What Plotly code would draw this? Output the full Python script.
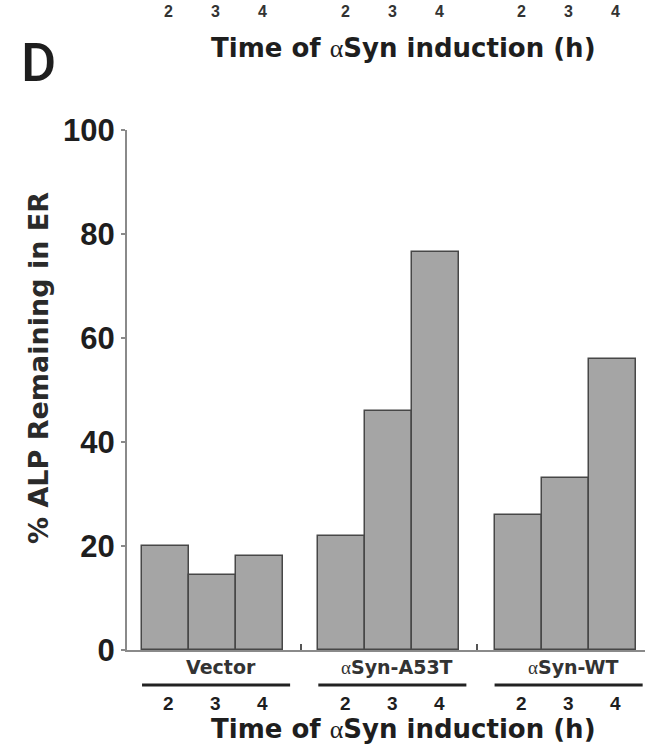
import plotly.graph_objects as go

groups = ["Vector", "αSyn-A53T", "αSyn-WT"]
times = ["2", "3", "4"]
values = [
    [20.0, 14.5, 18.0],
    [22.0, 46.0, 76.5],
    [26.0, 33.0, 56.0],
]
yticks = [0, 20, 40, 60, 80, 100]
x_title = "Time of αSyn induction (h)"
y_title = "% ALP Remaining in ER"
panel = "D"

GROUP_STEP = 3.75
PLOT_L, PLOT_R, PLOT_T, PLOT_B = 127, 645, 130, 650
W, H = 650, 750
plot_h = PLOT_B - PLOT_T

FONT = "Liberation Sans, Arial, Helvetica, sans-serif"
WIDE = "DejaVu Sans, Verdana, sans-serif"
TXT = "#1e1e1e"


def fmt(s):
    return s.replace("α", "<span style='font-family:Liberation Serif, serif;font-weight:normal'>α</span>")


xs, ys = [], []
for g, row in enumerate(values):
    for i, v in enumerate(row):
        xs.append(g * GROUP_STEP + i)
        ys.append(v)

fig = go.Figure()
fig.add_trace(go.Bar(
    x=xs, y=ys, width=1.0,
    marker=dict(color="#a5a5a5", line=dict(color="#474747", width=1.5)),
    showlegend=False,
))

gap_ticks = [g * GROUP_STEP + 2.5 + (GROUP_STEP - 3) / 2 for g in range(len(groups) - 1)]

annotations = []
shapes = []
for g, name in enumerate(groups):
    x0 = g * GROUP_STEP
    center = x0 + 1
    annotations.append(dict(x=center + 0.17, y=0, xref="x", yref="paper", yanchor="middle",
                            yshift=-17, text=fmt(name), showarrow=False,
                            font=dict(family=WIDE, size=19, color="#333", weight="bold")))
    shapes.append(dict(type="line", xref="x", yref="paper",
                       x0=x0 - 0.5, x1=x0 + 2.65, y0=-35 / plot_h, y1=-35 / plot_h,
                       line=dict(color="#222", width=3)))
    for i, t in enumerate(times):
        annotations.append(dict(x=x0 + i + 0.07, y=0, xref="x", yref="paper", yanchor="middle",
                                yshift=-53, text=t, showarrow=False,
                                font=dict(family=FONT, size=19, color=TXT, weight="bold")))
        # tick labels of the panel above (partly shown in the reference)
        annotations.append(dict(x=x0 + i + 0.07, y=1, xref="x", yref="paper",
                                yanchor="bottom", yshift=PLOT_T - 22, text=t, showarrow=False,
                                font=dict(family=FONT, size=16, color="#333", weight="bold")))

annotations.append(dict(x=0.533, y=0, xref="paper", yref="paper", yanchor="middle",
                        yshift=-79, text=fmt(x_title), showarrow=False,
                        font=dict(family=WIDE, size=26, color=TXT, weight="bold")))
annotations.append(dict(x=0.533, y=1, xref="paper", yref="paper", yanchor="middle",
                        yshift=PLOT_T - 48, text=fmt(x_title), showarrow=False,
                        font=dict(family=WIDE, size=26, color=TXT, weight="bold")))
annotations.append(dict(x=0, y=1, xref="paper", yref="paper", xanchor="center", yanchor="middle",
                        xshift=38 - PLOT_L, yshift=PLOT_T - 62, text=panel, showarrow=False,
                        font=dict(family="Roboto, Liberation Sans, sans-serif", size=54,
                                  color=TXT, weight=500)))
annotations.append(dict(x=0, y=(PLOT_B - 368) / plot_h, xref="paper", yref="paper",
                        xanchor="center", yanchor="middle", xshift=38 - PLOT_L,
                        text=y_title, textangle=-90, showarrow=False,
                        font=dict(family=WIDE, size=27, color="#2a2a2a", weight="bold")))

fig.update_layout(
    width=W, height=H,
    margin=dict(l=PLOT_L, r=W - PLOT_R, t=PLOT_T, b=H - PLOT_B, pad=0),
    paper_bgcolor="white", plot_bgcolor="white",
    bargap=0,
    annotations=annotations,
    shapes=shapes,
    xaxis=dict(range=[-0.82, 10.2], showgrid=False, zeroline=False,
               showline=True, linecolor="#8a8a8a", linewidth=2,
               tickvals=gap_ticks, ticktext=["", ""], ticks="inside",
               ticklen=6, tickwidth=2, tickcolor="#555"),
    yaxis=dict(range=[0, 100], tickvals=yticks, showgrid=False, zeroline=False,
               showline=True, linecolor="#8a8a8a", linewidth=2,
               ticks="outside", ticklen=4, tickwidth=1.5, tickcolor="#8a8a8a",
               tickfont=dict(family=FONT, size=31, color=TXT, weight="bold")),
)

fig.write_html("out.html")
